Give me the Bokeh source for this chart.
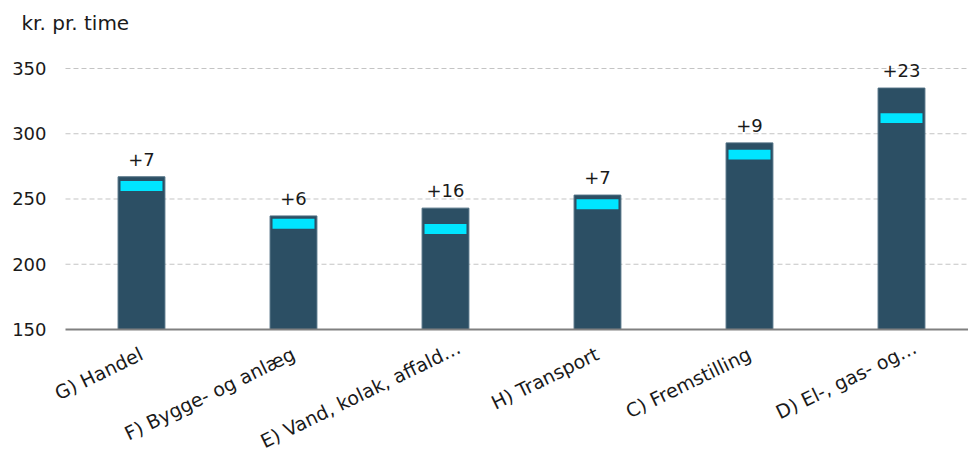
from bokeh.plotting import figure
from bokeh.models import Range1d, ColumnDataSource
from bokeh.embed import file_html
from bokeh.resources import INLINE
from bokeh.core.properties import value
import math

categories = ["G) Handel", "F) Bygge- og anlæg", "E) Vand, kolak, affald…",
              "H) Transport", "C) Fremstilling", "D) El-, gas- og…"]
current = [267, 237, 243, 253, 293, 335]
increase = [7, 6, 16, 7, 9, 23]
previous = [c - i for c, i in zip(current, increase)]
labels = ["+" + str(i) for i in increase]
y_ticks = [150, 200, 250, 300, 350]
y_title = "kr. pr. time"

# layout constants (view window in data units)
X_START, X_END = -0.9276, 5.4408
Y_START, Y_END = 58.05, 402.1
PLOT_LEFT = -0.5
Y_BASE = y_ticks[0]

FONT = "DejaVu Sans"
BAR = "#2c4f64"
CYAN = "#00e5ff"
TXT = "#1a1a1a"
ANG = math.radians(26)

xs = list(range(len(categories)))
# rotated labels ending in an ellipsis sit a little further along their line
shift = [15 if c.endswith("…") else 0 for c in categories]
src = ColumnDataSource(dict(
    x=xs, top=current, prev=previous, lab=labels, cat=categories,
    base=[Y_BASE] * len(xs),
    xo=[0 + s * math.cos(ANG) for s in shift],
    yo=[23 - s * math.sin(ANG) for s in shift],
))

p = figure(width=968, height=449, output_backend="svg", toolbar_location=None,
           x_range=Range1d(X_START, X_END), y_range=Range1d(Y_START, Y_END),
           min_border=0)
p.outline_line_color = None
p.axis.visible = False
p.grid.visible = False

# dashed horizontal grid lines
grid_src = ColumnDataSource(dict(
    y=y_ticks[1:], x0=[PLOT_LEFT] * (len(y_ticks) - 1),
    x1=[X_END] * (len(y_ticks) - 1)))
p.segment(x0="x0", x1="x1", y0="y", y1="y", source=grid_src,
          line_color="#c4c4c4", line_width=1, line_dash="5 3")

# y tick labels
tick_src = ColumnDataSource(dict(y=y_ticks, x=[PLOT_LEFT] * len(y_ticks),
                                 t=[str(v) for v in y_ticks]))
p.text(x="x", y="y", text="t", source=tick_src, x_offset=-19,
       text_align="right", text_baseline="middle", text_font=value(FONT),
       text_font_size="18px", text_color=TXT)

# unit title
p.text(x=[X_START], y=[Y_END], text=[y_title], x_offset=21, y_offset=22,
       text_align="left", text_baseline="alphabetic", text_font=value(FONT),
       text_font_size="20px", text_color=TXT)

p.vbar(x="x", top="top", bottom=Y_BASE, width=0.308, source=src,
       fill_color=BAR, line_color="#4d6d80", line_width=1)
p.rect(x="x", y="prev", width=0.276, height=7.6, source=src,
       fill_color=CYAN, line_color=None)
p.text(x="x", y="top", text="lab", source=src, text_align="center",
       text_baseline="bottom", y_offset=-11, text_font=value(FONT),
       text_font_size="18px", text_color=TXT)

# x axis baseline
p.segment(x0=[PLOT_LEFT], x1=[X_END], y0=[Y_BASE], y1=[Y_BASE],
          line_color="#808080", line_width=2)

# category labels, rotated, hanging below the baseline
p.text(x="x", y="base", text="cat", source=src, angle=ANG,
       text_align="right", text_baseline="middle", x_offset="xo",
       y_offset="yo", text_font=value(FONT), text_font_size="19px",
       text_color=TXT)

open("out.html", "w").write(file_html(p, INLINE))
